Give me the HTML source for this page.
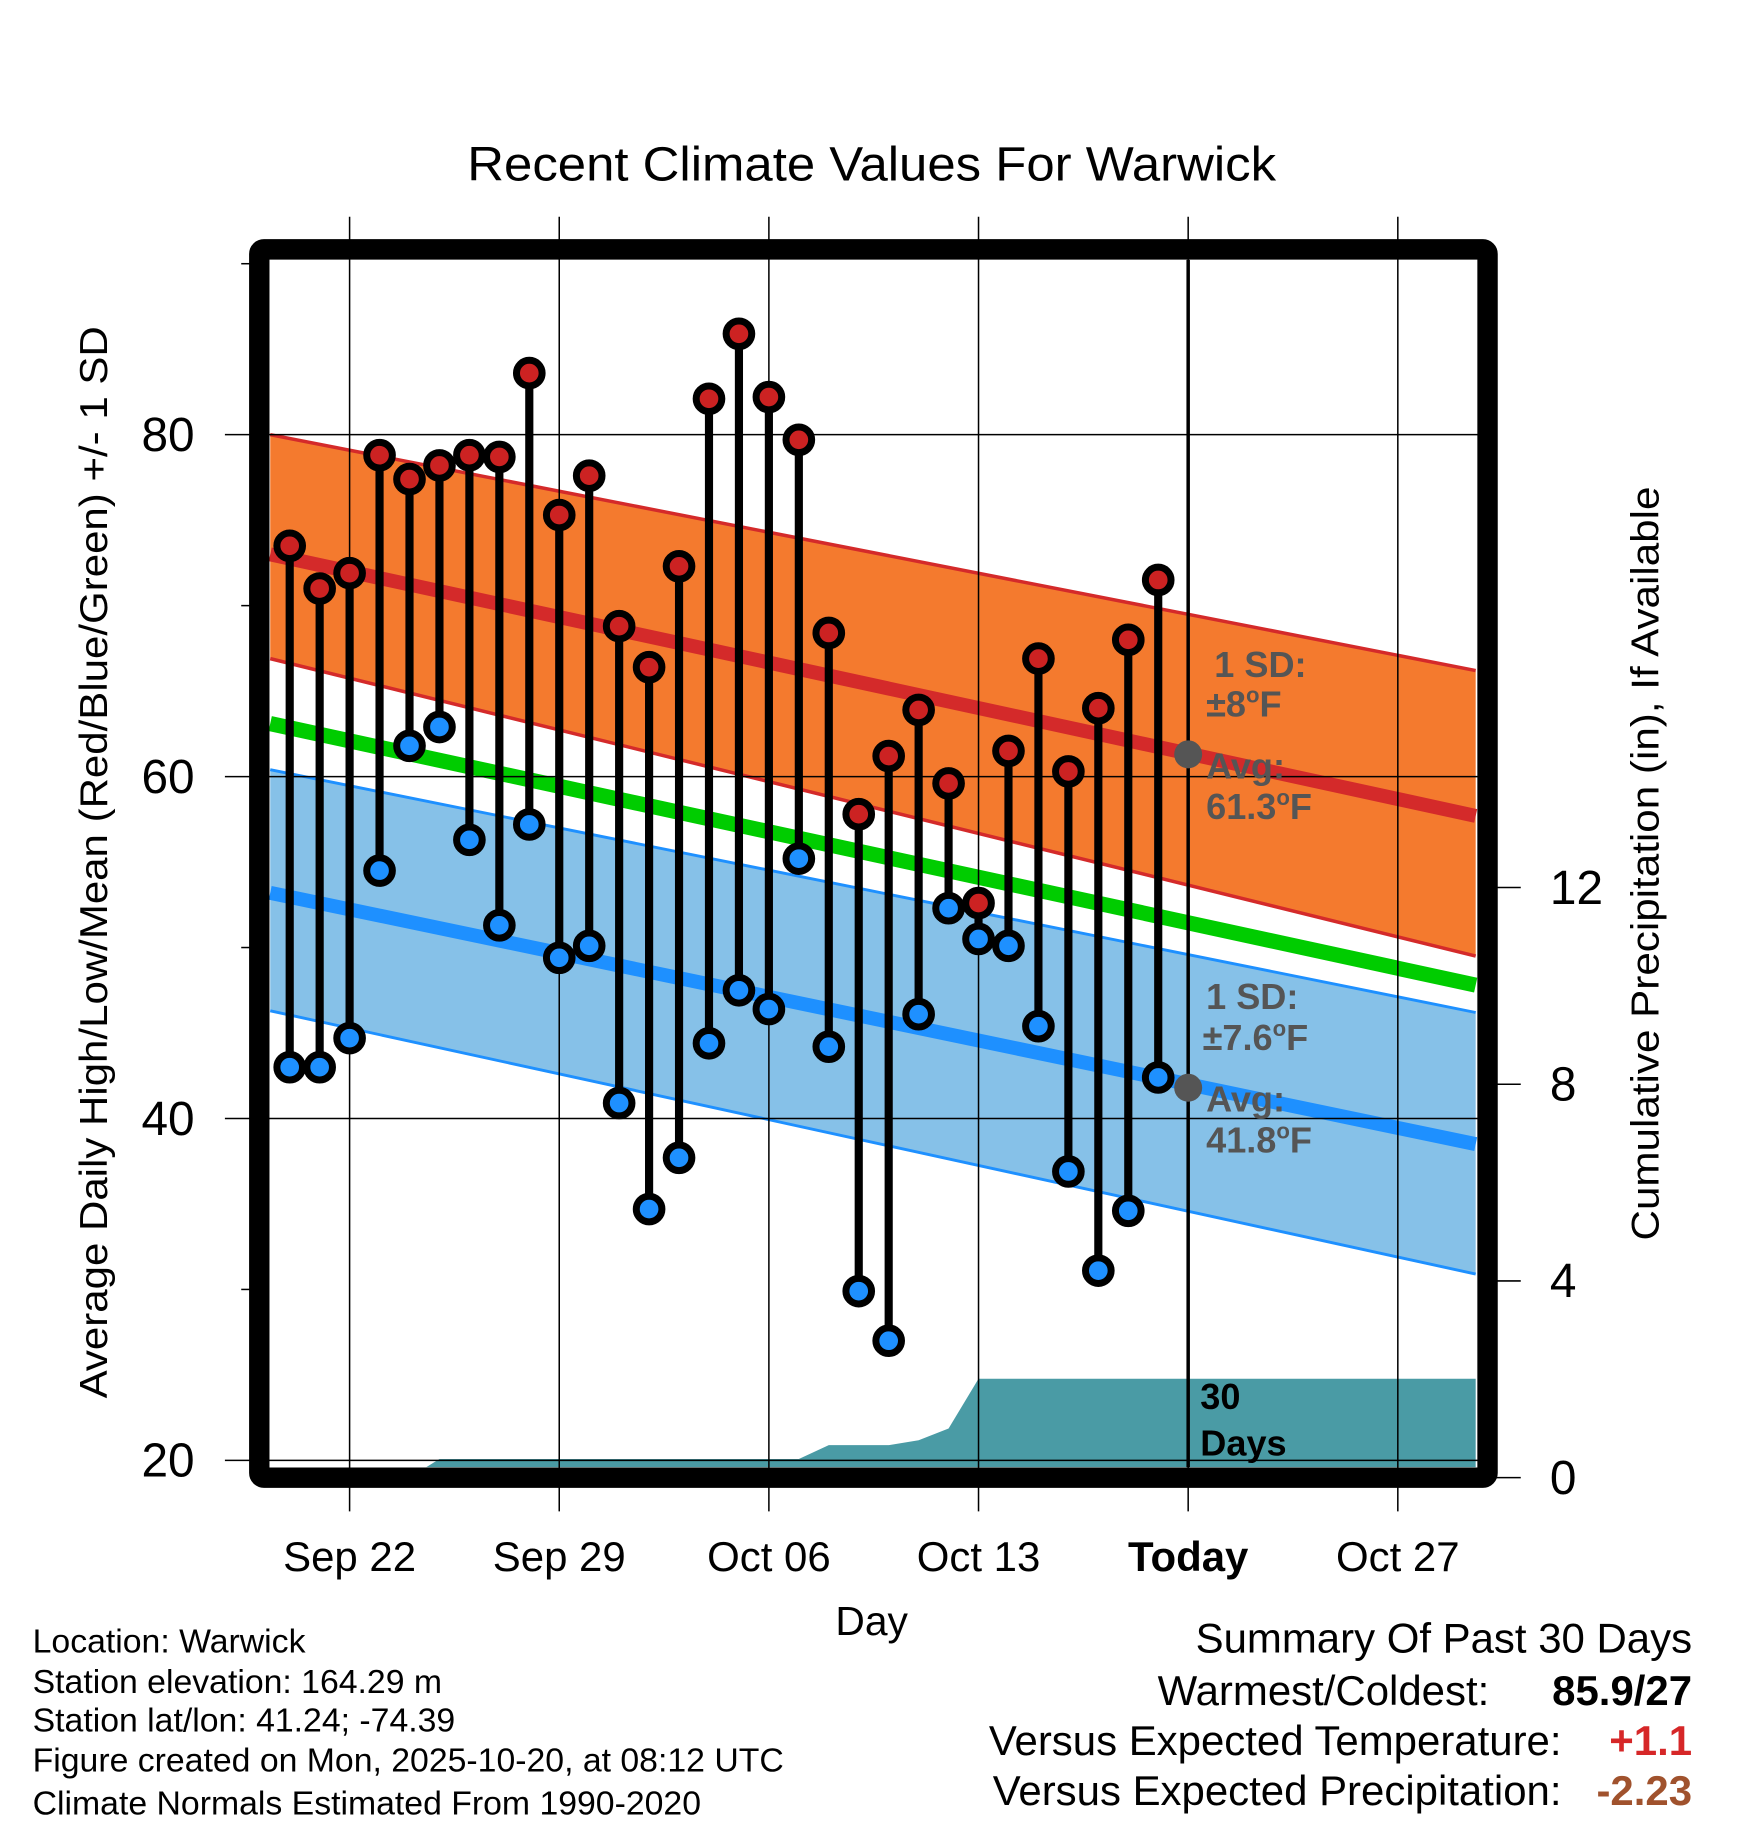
<!DOCTYPE html>
<html><head><meta charset="utf-8">
<style>
html,body{margin:0;padding:0;background:#fff;}
svg{display:block;font-family:"Liberation Sans",Arial,sans-serif;}
</style></head>
<body>
<svg id="chart" width="1748" height="1828" viewBox="0 0 1500 1568.65" xmlns="http://www.w3.org/2000/svg">
<rect width="1500" height="1568.65" fill="#fff"/>
<text x="748" y="155" text-anchor="middle" font-size="41" textLength="694" lengthAdjust="spacingAndGlyphs">Recent Climate Values For Warwick</text>
<g id="plot"></g>
<text transform="translate(92,740) rotate(-90)" text-anchor="middle" font-size="33" textLength="920" lengthAdjust="spacingAndGlyphs">Average Daily High/Low/Mean (Red/Blue/Green) +/- 1 SD</text>
<text transform="translate(1423,741) rotate(-90)" text-anchor="middle" font-size="33" textLength="647" lengthAdjust="spacingAndGlyphs">Cumulative Precipitation (in), If Available</text>
<text x="748" y="1403" text-anchor="middle" font-size="35">Day</text>
<g font-size="29">
<text x="28" y="1418">Location: Warwick</text>
<text x="28" y="1453">Station elevation: 164.29 m</text>
<text x="28" y="1486">Station lat/lon: 41.24; -74.39</text>
<text x="28" y="1520">Figure created on Mon, 2025-10-20, at 08:12 UTC</text>
<text x="28" y="1557">Climate Normals Estimated From 1990-2020</text>
</g>
<g font-size="36">
<text x="1452" y="1418" text-anchor="end">Summary Of Past 30 Days</text>
<text x="1278" y="1463" text-anchor="end">Warmest/Coldest:</text>
<text x="1452" y="1463" text-anchor="end" font-weight="bold">85.9/27</text>
<text x="1340" y="1506" text-anchor="end">Versus Expected Temperature:</text>
<text x="1452" y="1506" text-anchor="end" font-weight="bold" fill="#d62728">+1.1</text>
<text x="1340" y="1549" text-anchor="end">Versus Expected Precipitation:</text>
<text x="1452" y="1549" text-anchor="end" font-weight="bold" fill="#a0522d">-2.23</text>
</g>
</svg>
<script>
// data: day offsets from Sep 22 (0 = Sep 22)
const days = [-2,-1,0,1,2,3,4,5,6,7,8,9,10,11,12,13,14,15,16,17,18,19,20,21,22,23,24,25,26,27];
const highs = [73.5,71,71.9,78.8,77.4,78.2,78.8,78.7,83.6,75.3,77.6,68.8,66.4,72.3,82.1,85.9,82.2,79.7,68.4,57.8,61.2,63.9,59.6,52.6,61.5,66.9,60.3,64,68,71.5];
const lows = [43,43,44.7,54.5,61.8,62.9,56.3,51.3,57.2,49.4,50.1,40.9,34.7,37.7,44.4,47.5,46.4,55.2,44.2,29.9,27,46.1,52.3,50.5,50.1,45.4,36.9,31.1,34.6,42.4];
const normEnds = [-2.65, 37.6];
const normHigh = [73.0, 57.7];
const normHighTop = [80.0, 66.2];
const normHighBot = [66.9, 49.5];
const normMean = [63.1, 47.8];
const normLow = [53.2, 38.5];
const normLowTop = [60.4, 46.2];
const normLowBot = [46.3, 30.9];
const precipDays = [-2.65,2,3,15,16,18,19,20,21,37.6];
const precipVals = [0,0,0.38,0.38,0.66,0.66,0.76,1.0,2.01,2.01];
const xTickDays = [0,7,14,21,28,35];
const xTickLabels = ["Sep 22","Sep 29","Oct 06","Oct 13","Today","Oct 27"];
const yTicks = [20,40,60,80];
const yMinor = [30,50,70,90];
const pTicks = [0,4,8,12];
const todayDay = 28;

const X = d => 300 + d*25.7;
const Y = t => 373 + (80 - t)*14.67;
const P = p => 1268 - p*42.2;
const NS = "http://www.w3.org/2000/svg";
const plot = document.getElementById('plot');
function mk(tag, attrs, parent){
  const e = document.createElementNS(NS, tag);
  for (const k in attrs) e.setAttribute(k, attrs[k]);
  (parent||plot).appendChild(e);
  return e;
}
const L=231,R=1268,T=223,B=1259;
const clip = mk('clipPath',{id:'cp'});
mk('rect',{x:L,y:T,width:R-L,height:B-T},clip);
const g = mk('g',{'clip-path':'url(#cp)'});
function band(top,bot,fill,name){
  const d=`M${X(normEnds[0])},${Y(top[0])}L${X(normEnds[1])},${Y(top[1])}L${X(normEnds[1])},${Y(bot[1])}L${X(normEnds[0])},${Y(bot[0])}Z`;
  const e=mk('path',{d:d,fill:fill},g);
  
  
}
function line(v,color,w,name){
  const e=mk('line',{x1:X(normEnds[0]),y1:Y(v[0]),x2:X(normEnds[1]),y2:Y(v[1]),stroke:color,'stroke-width':w},g);
  
  
}
band(normHighTop,normHighBot,'#f47a2e','high-sd-band');
band(normLowTop,normLowBot,'#86c1e8','low-sd-band');
line(normHighTop,'#d42a2a',3,'high-band-top');
line(normHighBot,'#d42a2a',3,'high-band-bottom');
line(normLowTop,'#1e90ff',2.5,'low-band-top');
line(normLowBot,'#1e90ff',2.5,'low-band-bottom');
line(normHigh,'#d42a2a',12,'normal-high-line');
line(normMean,'#00cc00',13,'normal-mean-line');
line(normLow,'#1e90ff',12,'normal-low-line');
// precip
let pd=`M${X(precipDays[0])},${B+5}`;
for(let i=0;i<precipDays.length;i++) pd+=`L${X(precipDays[i])},${P(precipVals[i])}`;
pd+=`L${X(precipDays[precipDays.length-1])},${B+5}Z`;
const pa=mk('path',{d:pd,fill:'#4a9ba5'},g);


// grid
xTickDays.forEach((d,i)=>{
  const gl=mk('line',{x1:X(d),x2:X(d),y1:186,y2:1297,stroke:'#000','stroke-width':1.3});
  
  
  const t=mk('text',{x:X(d),y:1348,'text-anchor':'middle','font-size':36,'font-weight':d===todayDay?'bold':'normal'});
  t.textContent=xTickLabels[i];
  
  
});
yTicks.forEach(v=>{
  const gl=mk('line',{x1:193,x2:R,y1:Y(v),y2:Y(v),stroke:'#000','stroke-width':1.3});
  
  
  const t=mk('text',{x:167,y:Y(v)+14,'text-anchor':'end','font-size':41});
  t.textContent=v;
  
  
});
yMinor.forEach(v=>{
  const tk=mk('line',{x1:207,x2:216,y1:Y(v),y2:Y(v),stroke:'#000','stroke-width':1.3});
  
  
});
pTicks.forEach(v=>{
  const tk=mk('line',{x1:1280,x2:1305,y1:P(v),y2:P(v),stroke:'#000','stroke-width':1.3});
  
  
  const t=mk('text',{x:1330,y:P(v)+14,'font-size':41});
  t.textContent=v;
  
  
});
// today line
const tl=mk('line',{x1:X(todayDay),x2:X(todayDay),y1:T,y2:B,stroke:'#000','stroke-width':3});


// stems and points
days.forEach((d,i)=>{
  const s=mk('line',{x1:X(d),x2:X(d),y1:Y(highs[i]),y2:Y(lows[i]),stroke:'#000','stroke-width':7});
  
  
});
days.forEach((d,i)=>{
  const h=mk('circle',{cx:X(d),cy:Y(highs[i]),r:11,fill:'#cc2222',stroke:'#000','stroke-width':6});
  
  
  const l=mk('circle',{cx:X(d),cy:Y(lows[i]),r:11,fill:'#1e90ff',stroke:'#000','stroke-width':6});
  
  
});
// today avg dots
[[61.3,'today-avg-high-dot'],[41.8,'today-avg-low-dot']].forEach(a=>{
  const c=mk('circle',{cx:X(todayDay),cy:Y(a[0]),r:12,fill:'#555'});
  
  
});
// frame
const fr=mk('rect',{x:222.5,y:214,width:1054,height:1054,fill:'none',stroke:'#000','stroke-width':17.5,rx:4});


// annotations
function txt(x,y,html,fill,name){
  const t=mk('text',{x:x,y:y,'font-size':31,'font-weight':'bold',fill:fill});
  t.innerHTML=html;
  
  
}
const sup='<tspan dy="-12" font-size="19">o</tspan><tspan dy="12">F</tspan>';
txt(1042,581,'1 SD:','#555','high-sd-label');
txt(1035,615,'±8'+sup,'#555','high-sd-value');
txt(1035,668,'Avg:','#555','high-avg-label');
txt(1035,703,'61.3'+sup,'#555','high-avg-value');
txt(1035,866,'1 SD:','#555','low-sd-label');
txt(1032,901,'±7.6'+sup,'#555','low-sd-value');
txt(1035,954,'Avg:','#555','low-avg-label');
txt(1035,989,'41.8'+sup,'#555','low-avg-value');
txt(1030,1209,'30','#000','days-label-30');
txt(1030,1249,'Days','#000','days-label');
</script>
</body></html>
